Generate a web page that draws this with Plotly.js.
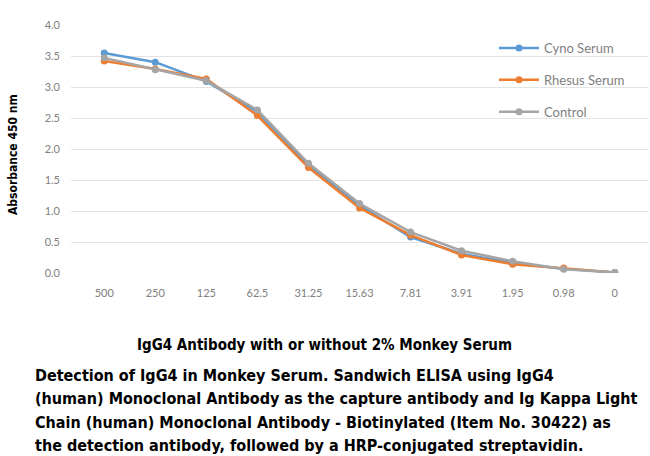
<!DOCTYPE html>
<html>
<head>
<meta charset="utf-8">
<script src="https://cdn.plot.ly/plotly-3.0.1.min.js"></script>
<style>html,body{margin:0;padding:0;background:#fff;}#chart{width:650px;height:456px;}</style>
</head>
<body>
<div id="chart"></div>
<script>
const categories = ["500", "250", "125", "62.5", "31.25", "15.63", "7.81", "3.91", "1.95", "0.98", "0"];
const cynoSerum = [3.55, 3.40, 3.09, 2.60, 1.74, 1.09, 0.58, 0.31, 0.16, 0.07, 0.01];
const rhesusSerum = [3.42, 3.29, 3.13, 2.54, 1.70, 1.05, 0.61, 0.29, 0.14, 0.08, 0.01];
const control = [3.47, 3.28, 3.10, 2.63, 1.77, 1.12, 0.66, 0.36, 0.19, 0.06, 0.01];
const seriesNames = ["Cyno Serum", "Rhesus Serum", "Control"];
const yTickVals = [0, 0.5, 1, 1.5, 2, 2.5, 3, 3.5, 4];
const yTickText = ["0.0", "0.5", "1.0", "1.5", "2.0", "2.5", "3.0", "3.5", "4.0"];
const yTitle = "Absorbance 450 nm";
const xTitle = "IgG4 Antibody with or without 2% Monkey Serum";
const captionLines = [
  "Detection of IgG4 in Monkey Serum. Sandwich ELISA using IgG4",
  "(human) Monoclonal Antibody as the capture antibody and Ig Kappa Light",
  "Chain (human) Monoclonal Antibody - Biotinylated (Item No. 30422) as",
  "the detection antibody, followed by a HRP-conjugated streptavidin."
];
const colors = ["#5B9BD5", "#ED7D31", "#A5A5A5"];

const W = 650, H = 456;
const margin = {l: 71, r: 2, t: 25, b: 183};
const pw = W - margin.l - margin.r, ph = H - margin.t - margin.b;
const px = x => (x - margin.l) / pw;
const py = y => 1 - (y - margin.t) / ph;

const allSeries = [cynoSerum, rhesusSerum, control];
const traces = allSeries.map((vals, i) => ({
  type: "scatter",
  mode: "lines+markers",
  x: categories,
  y: vals,
  name: seriesNames[i],
  legendgroup: "g" + i,
  line: {color: colors[i], width: 2.5},
  marker: {color: colors[i], size: 7, symbol: "circle"}
}));

const boldFont = {family: "'DejaVu Sans Condensed', 'DejaVu Sans', sans-serif", color: "#000"};
const annotations = [
  {text: "<b>" + xTitle + "</b>", xref: "paper", yref: "paper", x: px(324), y: py(345),
   xanchor: "center", yanchor: "middle", showarrow: false, font: Object.assign({size: 15}, boldFont)},
  {text: "<b>" + yTitle + "</b>", xref: "paper", yref: "paper", x: px(13), y: py(155),
   xanchor: "center", yanchor: "middle", textangle: -90, showarrow: false, font: Object.assign({size: 12}, boldFont)}
];
const captionY = [375, 398, 422, 445];
captionLines.forEach((t, i) => {
  annotations.push({text: "<b>" + t + "</b>", xref: "paper", yref: "paper", x: px(33), y: py(captionY[i]),
    xanchor: "left", yanchor: "middle", showarrow: false, font: Object.assign({size: 16}, boldFont)});
});

const layout = {
  width: W, height: H,
  margin: margin,
  paper_bgcolor: "#fff", plot_bgcolor: "#fff",
  showlegend: true,
  legend: {x: px(494), y: py(33), xanchor: "left", yanchor: "top", bgcolor: "rgba(0,0,0,0)",
    font: {family: "Lato, 'Open Sans', sans-serif", size: 13, color: "#808080"},
    tracegroupgap: 12, itemwidth: 40},
  xaxis: {type: "category", showgrid: false, zeroline: false, showline: false, ticks: "",
    tickfont: {family: "Lato, 'Open Sans', sans-serif", size: 11, color: "#808080"}, ticklabelstandoff: 12},
  yaxis: {range: [0, 4], tickvals: yTickVals, ticktext: yTickText, showgrid: true, gridcolor: "#e4e4e4",
    gridwidth: 1, zeroline: false, showline: false, ticks: "",
    tickfont: {family: "Lato, 'Open Sans', sans-serif", size: 11, color: "#808080"}, ticklabelstandoff: 10},
  annotations: annotations
};

Plotly.newPlot("chart", traces, layout, {displayModeBar: false, staticPlot: true});
</script>
</body>
</html>
